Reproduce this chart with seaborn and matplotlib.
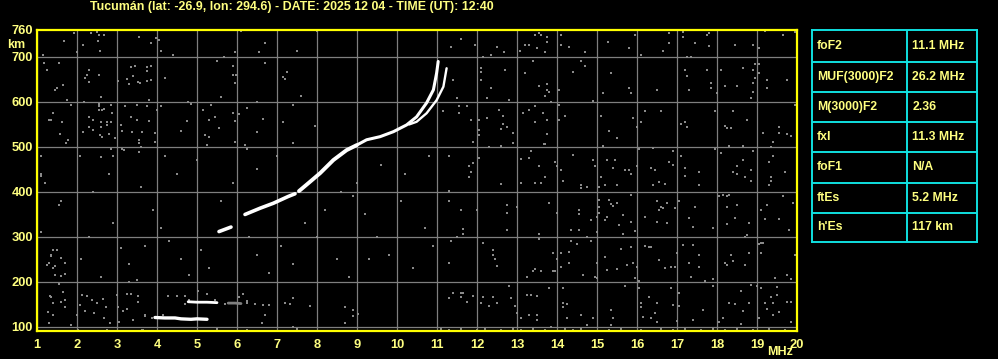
import matplotlib
matplotlib.use("Agg")
import matplotlib.pyplot as plt
import seaborn as sns
import pandas as pd

# ---------------- data ----------------
title = "Tucumán (lat: -26.9, lon: 294.6) - DATE: 2025 12 04 - TIME (UT): 12:40"
x_ticks = list(range(1, 21))
y_ticks = [100, 200, 300, 400, 500, 600, 700, 760]
x_grid = list(range(1, 20))
y_grid = [100, 200, 300, 400, 500, 600, 700]

table_params = ["foF2", "MUF(3000)F2", "M(3000)F2", "fxI", "foF1", "ftEs", "h'Es"]
table_values = ["11.1 MHz", "26.2 MHz", "2.36", "11.3 MHz", "N/A", "5.2 MHz", "117 km"]

# echo traces (frequency MHz, virtual height km), grouped in segments
es_o_f = [3.95, 4.2, 4.45, 4.6, 4.85, 5.0, 5.25]
es_o_h = [121, 120, 120, 118, 117, 118, 117]
es_2_f = [4.78, 5.0, 5.25, 5.5]
es_2_h = [156, 155, 155, 154]
es_2g_f = [5.78, 5.95, 6.1]
es_2g_h = [153, 153, 152]
f_a_f = [5.55, 5.7, 5.85]
f_a_h = [312, 317, 322]
f_b_f = [6.2, 6.58, 6.91, 7.28, 7.45]
f_b_h = [350, 364, 375, 390, 396]
f_c_f = [7.55, 7.83, 8.08, 8.41, 8.74, 8.99]
f_c_h = [402, 423, 442, 471, 493, 504]
f_o_f = [8.99, 9.24, 9.58, 9.91, 10.24, 10.49, 10.74, 10.91, 10.99, 11.03]
f_o_h = [504, 516, 523, 534, 549, 567, 598, 627, 664, 690]
f_x_f = [10.3, 10.49, 10.74, 10.99, 11.16, 11.24]
f_x_h = [550, 556, 575, 604, 634, 675]

# background noise dots (freq MHz, height km)
noise_points = [
    (1.93, 754), (2.35, 754), (2.49, 756), (2.54, 749), (2.68, 748), (1.68, 736), (2.14, 727), (2.52, 736),
    (3.85, 732), (3.97, 743), (4.04, 738), (4.1, 714), (4.39, 704), (1.99, 710), (1.16, 704), (2.57, 713),
    (3.54, 745), (5.68, 700), (5.95, 712), (6.09, 758), (6.69, 732), (6.56, 712), (7.49, 714), (8.0, 758),
    (1.18, 686), (1.54, 686), (2.29, 671), (2.24, 660), (2.2, 653), (2.29, 645), (2.54, 660), (3.35, 677),
    (3.46, 680), (3.4, 658), (3.26, 651), (3.31, 640), (3.52, 645), (3.57, 642), (3.75, 677), (3.85, 679),
    (3.75, 668), (3.85, 649), (3.75, 646), (4.2, 654), (3.02, 647), (2.6, 610), (1.74, 604), (3.8, 604),
    (5.5, 690), (5.9, 680), (5.9, 660), (5.98, 660), (5.96, 642), (5.61, 610), (6.7, 686), (7.24, 667),
    (7.14, 655), (7.2, 652), (7.6, 613),
    (1.85, 593), (2.18, 600), (2.54, 596), (2.54, 590), (2.68, 585), (2.54, 583), (2.62, 582), (2.88, 576),
    (2.84, 594), (3.19, 592), (3.5, 594), (3.75, 592), (4.1, 592), (4.0, 583), (4.78, 600), (4.85, 596),
    (5.14, 582), (5.35, 594), (5.45, 566), (5.29, 560), (5.9, 576), (6.05, 573), (5.96, 558), (6.24, 587),
    (6.49, 600), (6.64, 563), (7.14, 556), (7.39, 594), (7.95, 546), (5.54, 543), (4.74, 558), (1.4, 576),
    (1.29, 561), (1.34, 560), (1.63, 556), (2.29, 566), (2.39, 560), (2.6, 556), (2.74, 556), (2.84, 556),
    (2.74, 549), (2.6, 544), (2.29, 544), (2.39, 538), (3.09, 549), (3.34, 566), (3.5, 560), (3.8, 558),
    (3.63, 534), (3.13, 535), (3.38, 534), (3.94, 532), (4.59, 535), (2.14, 533),
    (1.58, 529), (1.77, 515), (1.72, 508), (2.57, 526), (2.62, 522), (2.79, 528), (2.95, 519), (3.12, 496),
    (3.17, 493), (2.84, 496), (2.6, 477), (2.9, 481), (3.54, 515), (3.54, 508), (3.59, 500), (3.54, 489),
    (3.94, 511), (4.19, 481), (2.07, 481), (1.1, 481), (5.2, 526), (5.3, 522), (5.25, 504), (5.95, 511),
    (6.2, 504), (6.25, 496), (6.5, 533), (7.4, 508),
    (11.59, 741), (11.34, 723), (11.95, 727), (12.14, 701), (12.34, 704), (12.49, 723), (12.68, 710),
    (13.08, 714), (13.2, 727), (13.31, 727), (13.45, 749), (13.56, 754), (13.6, 749), (13.74, 745),
    (13.74, 734), (13.51, 719), (13.7, 710), (14.09, 749), (14.09, 727), (14.29, 723), (14.69, 712),
    (15.28, 734), (15.8, 719), (15.95, 749), (16.09, 704), (16.64, 714), (16.79, 754), (16.79, 732),
    (17.14, 756), (17.14, 745), (17.45, 732), (17.74, 749), (17.79, 754), (17.79, 724), (17.24, 699),
    (17.34, 701), (18.44, 727), (18.89, 727), (19.04, 719), (19.2, 758), (19.64, 749), (19.94, 756),
    (19.99, 721),
    (12.09, 675), (12.09, 667), (12.09, 649), (12.34, 630), (12.7, 671), (12.24, 608), (12.8, 604),
    (13.39, 690), (13.2, 664), (13.55, 636), (13.74, 639), (13.74, 627), (13.8, 623), (13.7, 613),
    (13.85, 601), (14.05, 627), (14.39, 667), (14.59, 690), (14.7, 681), (14.89, 602), (15.14, 619),
    (15.34, 664), (15.8, 632), (15.85, 619), (16.49, 627), (17.2, 671), (17.24, 658), (17.29, 627),
    (17.74, 671), (17.84, 642), (17.84, 630), (17.99, 619), (18.09, 671), (18.19, 636), (18.49, 636),
    (18.64, 675), (18.89, 671), (18.94, 684), (19.04, 684), (18.94, 653), (18.89, 642), (18.89, 623),
    (18.84, 608), (19.04, 664), (19.24, 649), (19.24, 632), (19.74, 649), (11.49, 608), (11.39, 649),
    (11.14, 579), (11.54, 591), (11.54, 576), (11.74, 591), (11.84, 560), (12.04, 559), (12.04, 538),
    (12.04, 527), (12.24, 564), (12.54, 582), (12.64, 569), (12.64, 551), (12.74, 545), (12.59, 539),
    (12.89, 532), (12.89, 508), (11.89, 512), (13.14, 575), (13.29, 582), (13.45, 591), (13.45, 556),
    (13.64, 575), (13.74, 560), (13.74, 529), (13.68, 506), (14.04, 593), (14.04, 561), (14.2, 569),
    (15.09, 569), (15.29, 536), (15.49, 521), (15.89, 564), (15.99, 545), (16.09, 556), (16.19, 579),
    (16.59, 579), (17.09, 551), (17.2, 556), (17.24, 545), (17.94, 579), (18.19, 547), (18.24, 543),
    (18.34, 543), (18.39, 581), (18.74, 560), (19.14, 532), (19.54, 545), (19.54, 530), (19.74, 529),
    (19.84, 524), (19.94, 593), (19.39, 512), (19.34, 501), (18.29, 502), (18.64, 502), (15.14, 502),
    (12.59, 502), (12.29, 499), (13.69, 507),
    (11.29, 480), (11.89, 464), (11.79, 458), (11.84, 445), (11.79, 433), (12.04, 476), (13.09, 473),
    (13.29, 476), (13.34, 490), (13.54, 458), (13.94, 467), (13.99, 458), (14.09, 449), (13.69, 433),
    (14.39, 482), (14.89, 471), (14.94, 458), (15.09, 433), (15.24, 471), (15.44, 471), (15.39, 454),
    (15.69, 449), (15.79, 449), (15.84, 441), (15.99, 458), (16.04, 495), (16.39, 497), (16.34, 454),
    (16.44, 449), (16.79, 467), (16.89, 490), (16.89, 460), (17.09, 480), (17.19, 454), (17.19, 436),
    (17.54, 445), (17.94, 495), (18.09, 486), (18.39, 445), (18.49, 458), (18.49, 441), (18.64, 471),
    (18.84, 449), (18.69, 433), (19.29, 467), (19.34, 433), (19.39, 480), (19.69, 445), (18.89, 490),
    (12.59, 418), (13.09, 421), (13.45, 421), (13.6, 421), (14.14, 424), (14.59, 416), (14.74, 412),
    (14.59, 408), (15.04, 412), (15.19, 416), (15.49, 416), (16.39, 416), (16.54, 423), (16.69, 418),
    (17.54, 416), (18.84, 424), (19.29, 416), (19.34, 424), (11.29, 403),
    (11.29, 381), (11.59, 359), (11.64, 317), (11.64, 306), (11.49, 301), (11.99, 359), (12.74, 371),
    (12.74, 353), (12.74, 316), (12.99, 367), (13.79, 376), (13.54, 306), (13.54, 295), (13.99, 354),
    (14.54, 360), (14.54, 350), (14.34, 316), (14.54, 316), (14.84, 338), (14.99, 345), (14.99, 312),
    (15.04, 382), (15.04, 367), (15.04, 353), (15.19, 338), (15.24, 345), (15.29, 382), (15.34, 373),
    (15.39, 369), (15.49, 375), (15.54, 327), (15.64, 349), (15.64, 307), (15.84, 393), (15.84, 334),
    (15.94, 314), (16.19, 345), (16.49, 381), (16.54, 359), (16.59, 367), (16.64, 364), (16.74, 376),
    (16.49, 334), (16.74, 332), (16.94, 364), (17.04, 381), (17.29, 342), (17.39, 323), (17.44, 367),
    (17.89, 319), (18.04, 390), (18.14, 393), (18.24, 390), (18.29, 393), (18.24, 367), (18.49, 371),
    (18.44, 342), (18.24, 328), (18.79, 332), (18.74, 304), (18.69, 301), (19.09, 359), (19.19, 340),
    (19.24, 371), (19.54, 340), (19.64, 391), (19.89, 376), (19.79, 316),
    (11.34, 292), (11.29, 243), (12.14, 287), (12.39, 270), (12.39, 260), (12.44, 251), (12.49, 236),
    (13.39, 225), (13.44, 228), (13.59, 225), (13.89, 225), (13.94, 225), (13.24, 212), (13.89, 265),
    (13.99, 250), (14.09, 264), (14.09, 234), (14.29, 267), (14.34, 290), (14.49, 284), (14.29, 243),
    (14.64, 216), (14.74, 301), (14.84, 292), (14.94, 212), (14.99, 243), (14.99, 208), (15.19, 256),
    (15.24, 227), (15.49, 228), (15.59, 273), (15.74, 238), (15.84, 278), (15.89, 243), (15.99, 234),
    (15.94, 208), (16.04, 203), (16.19, 280), (16.29, 278), (16.34, 278), (16.54, 249), (16.69, 230),
    (16.84, 234), (16.94, 234), (16.99, 265), (17.14, 282), (17.29, 243), (17.39, 282), (17.54, 260),
    (17.54, 234), (17.34, 212), (17.69, 203), (17.89, 206), (18.19, 243), (18.24, 238), (18.39, 247),
    (18.34, 260), (18.69, 238), (18.79, 265), (19.04, 284), (19.09, 287), (19.14, 287), (19.09, 265),
    (19.44, 208), (19.74, 216), (19.84, 206), (19.94, 260),
    (11.39, 176), (11.29, 164), (11.59, 176), (11.59, 166), (11.64, 175), (11.89, 169), (11.74, 156),
    (12.14, 167), (12.39, 167), (12.09, 153), (12.29, 147), (12.49, 153), (12.79, 190), (12.84, 164),
    (12.94, 147), (12.99, 130), (13.09, 121), (13.29, 127), (13.49, 169), (13.24, 171), (13.34, 171),
    (13.49, 127), (13.49, 116), (13.79, 186), (13.84, 101), (14.14, 186), (14.14, 154), (14.14, 144),
    (14.24, 151), (14.24, 121), (14.59, 127), (14.89, 119), (14.74, 104), (15.34, 138), (15.39, 121),
    (15.34, 104), (15.69, 191), (16.04, 186), (16.09, 154), (16.09, 144), (16.29, 167), (16.14, 123),
    (16.34, 119), (16.49, 153), (16.44, 132), (16.49, 112), (16.84, 186), (16.89, 149), (17.04, 175),
    (17.04, 147), (16.99, 114), (17.39, 116), (17.64, 138), (17.89, 191), (18.04, 112), (18.14, 119),
    (18.29, 154), (18.44, 151), (18.59, 181), (18.64, 136), (18.59, 107), (18.79, 154), (18.84, 193),
    (18.99, 191), (19.09, 186), (19.04, 121), (19.19, 154), (19.24, 139), (19.34, 167), (19.39, 154),
    (19.49, 188), (19.49, 171), (19.54, 134), (19.74, 156), (19.84, 156), (19.84, 112), (19.99, 130),
    (19.39, 127),
    (11.1, 95), (11.3, 94), (11.6, 96), (12.0, 94), (12.2, 95), (12.6, 94), (12.9, 96), (13.1, 94),
    (13.4, 95), (13.7, 94), (14.2, 96), (14.4, 94), (14.6, 95), (15.3, 94), (15.6, 95), (16.1, 94),
    (16.6, 96), (16.9, 94), (17.2, 95), (17.6, 94), (17.9, 95), (18.2, 94), (18.5, 96), (18.9, 94),
    (19.3, 95), (19.7, 94),
    (1.33, 169), (1.41, 153), (1.59, 156), (1.28, 134), (1.7, 144), (1.31, 108), (1.84, 104), (2.01, 127),
    (2.12, 171), (2.08, 149), (2.26, 168), (2.37, 160), (2.49, 153), (2.42, 130), (2.2, 136), (2.64, 162),
    (2.73, 144), (2.68, 119), (2.83, 108), (2.99, 171), (3.03, 145), (3.05, 111), (3.16, 136), (3.24, 141),
    (3.26, 173), (3.35, 174), (3.53, 168), (3.53, 156), (3.41, 115), (3.62, 93), (3.87, 121), (3.7, 127),
    (4.28, 168), (4.49, 169), (4.7, 168), (5.03, 179), (5.24, 173), (5.49, 96), (6.16, 174), (6.04, 166),
    (6.24, 153), (6.66, 149), (6.79, 149), (6.7, 127), (6.62, 108), (7.2, 153), (7.33, 151), (7.39, 164),
    (7.83, 147), (8.7, 145), (8.89, 138), (8.89, 125), (8.7, 108), (9.02, 129), (7.41, 101), (7.49, 95),
    (6.24, 93), (2.74, 93), (2.03, 93), (3.66, 93),
    (1.35, 260), (1.3, 242), (1.45, 215), (1.4, 230), (1.6, 214), (1.7, 217), (1.1, 310), (1.5, 270),
    (2.1, 250), (2.3, 300), (2.6, 210), (2.9, 330), (3.1, 275), (3.3, 240), (3.5, 205), (3.7, 280),
    (3.9, 360), (3.6, 410), (2.4, 400), (2.8, 440), (1.6, 380), (1.2, 420), (4.3, 290), (4.6, 250),
    (4.8, 215), (5.1, 270), (5.3, 230), (5.6, 380), (5.9, 420), (6.3, 300), (6.5, 260), (6.8, 220),
    (7.1, 280), (7.4, 240), (7.7, 330), (8.0, 300), (8.2, 360), (8.5, 250), (8.8, 210), (8.6, 400),
    (9.0, 420), (9.2, 350), (9.5, 300), (9.8, 260), (10.1, 380), (10.4, 230), (10.7, 320), (10.9, 280),
    (9.6, 460), (10.2, 440), (10.8, 480), (6.5, 450), (7.0, 480), (4.5, 440), (5.0, 470), (8.9, 390),
    (9.3, 250), (4.1, 320), (3.3, 200),
    (1.25, 670), (1.1, 440), (1.1, 436), (1.5, 632), (1.45, 627), (1.65, 638), (1.55, 371), (1.4, 270),
    (1.35, 257), (1.6, 254), (1.25, 238), (1.45, 236), (1.7, 242), (1.55, 196), (1.65, 178), (1.35, 166),
    (1.7, 160), (1.4, 127),
    (4.7, 150), (4.8, 160), (5.45, 160), (5.7, 150), (6.25, 157), (6.45, 151), (3.7, 125), (4.15, 126),
]

# ---------------- style ----------------
sns.set_style("dark")
plt.rcParams["font.family"] = ["Liberation Sans", "DejaVu Sans"]
plt.rcParams["font.weight"] = "bold"

YEL_TXT = "#ffff80"
YEL_FR = "#ffff00"
GRID = "#7f7f7f"
CYAN = "#10e0e0"

fig = plt.figure(figsize=(9.98, 3.59), dpi=100, facecolor="black")
ax = fig.add_axes([37 / 998, 28 / 359, 760 / 998, 301 / 359])
ax.set_facecolor("black")

# grid
for g in x_grid:
    ax.axvline(g, color=GRID, lw=0.9, zorder=1)
for g in y_grid:
    ax.axhline(g, color=GRID, lw=0.9, zorder=1)

# noise
noise = pd.DataFrame(noise_points, columns=["freq", "height"])
sns.scatterplot(data=noise, x="freq", y="height", ax=ax, color="#8a8a8a", marker="s",
                s=3.5, linewidth=0, zorder=2, legend=False)

# traces
segs = [
    (es_o_f, es_o_h, "white", 2.4),
    (es_2_f, es_2_h, "white", 2.0),
    (es_2g_f, es_2g_h, GRID, 2.0),
    (f_a_f, f_a_h, "white", 2.6),
    (f_b_f, f_b_h, "white", 2.6),
    (f_c_f, f_c_h, "white", 2.8),
    (f_o_f, f_o_h, "white", 2.2),
    (f_x_f, f_x_h, "white", 1.7),
]
for fx, hy, col, lw in segs:
    df = pd.DataFrame({"freq": fx, "height": hy})
    sns.lineplot(data=df, x="freq", y="height", ax=ax, color=col, lw=lw,
                 sort=False, estimator=None, zorder=3)

ax.set_xlim(1, 20)
ax.set_ylim(91, 760)
ax.set_xticks(x_ticks)
ax.set_xticklabels([str(t) for t in x_ticks])
ax.set_yticks(y_ticks)
ax.set_yticklabels([str(t) for t in y_ticks])
ax.tick_params(axis="both", length=0, colors=YEL_TXT, labelsize=9.3)
ax.tick_params(axis="x", pad=6)
ax.tick_params(axis="y", pad=3)
for lab in ax.get_xticklabels() + ax.get_yticklabels():
    lab.set_fontweight("bold")
ax.set_xlabel("")
ax.set_ylabel("")
ax.grid(False)
for sp in ax.spines.values():
    sp.set_visible(True)
    sp.set_color(YEL_FR)
    sp.set_linewidth(1.6)

fig.text(90 / 998, 1 - 1 / 359, title, color=YEL_TXT, fontsize=8.9, fontweight="bold",
         ha="left", va="top")
fig.text(7 / 998, 1 - 39 / 359, "km", color=YEL_TXT, fontsize=9, fontweight="bold",
         ha="left", va="top")
fig.text(780 / 998, 1 - 358 / 359, "MHz", color=YEL_TXT, fontsize=9, fontweight="bold",
         ha="center", va="bottom")

# parameter table
tx = fig.add_axes([812 / 998, (359 - 242) / 359, 165 / 998, 212 / 359])
tx.set_facecolor("black")
tx.set_xlim(0, 165)
tx.set_ylim(212, 0)
tx.set_xticks([])
tx.set_yticks([])
for sp in tx.spines.values():
    sp.set_color(CYAN)
    sp.set_linewidth(1.4)
row_edges = [0, 31.7, 61.7, 91.7, 121.7, 152.7, 182.7, 212]
for e in row_edges[1:-1]:
    tx.axhline(e, color=CYAN, lw=1.4)
tx.axvline(95, color=CYAN, lw=1.4)
for i, (p, v) in enumerate(zip(table_params, table_values)):
    yc = (row_edges[i] + row_edges[i + 1]) / 2
    tx.text(5, yc, p, color=YEL_TXT, fontsize=8.8, fontweight="bold", va="center", ha="left")
    tx.text(100.5, yc, v, color=YEL_TXT, fontsize=8.8, fontweight="bold", va="center", ha="left")

fig.savefig("out.png", dpi=100, facecolor="black")
